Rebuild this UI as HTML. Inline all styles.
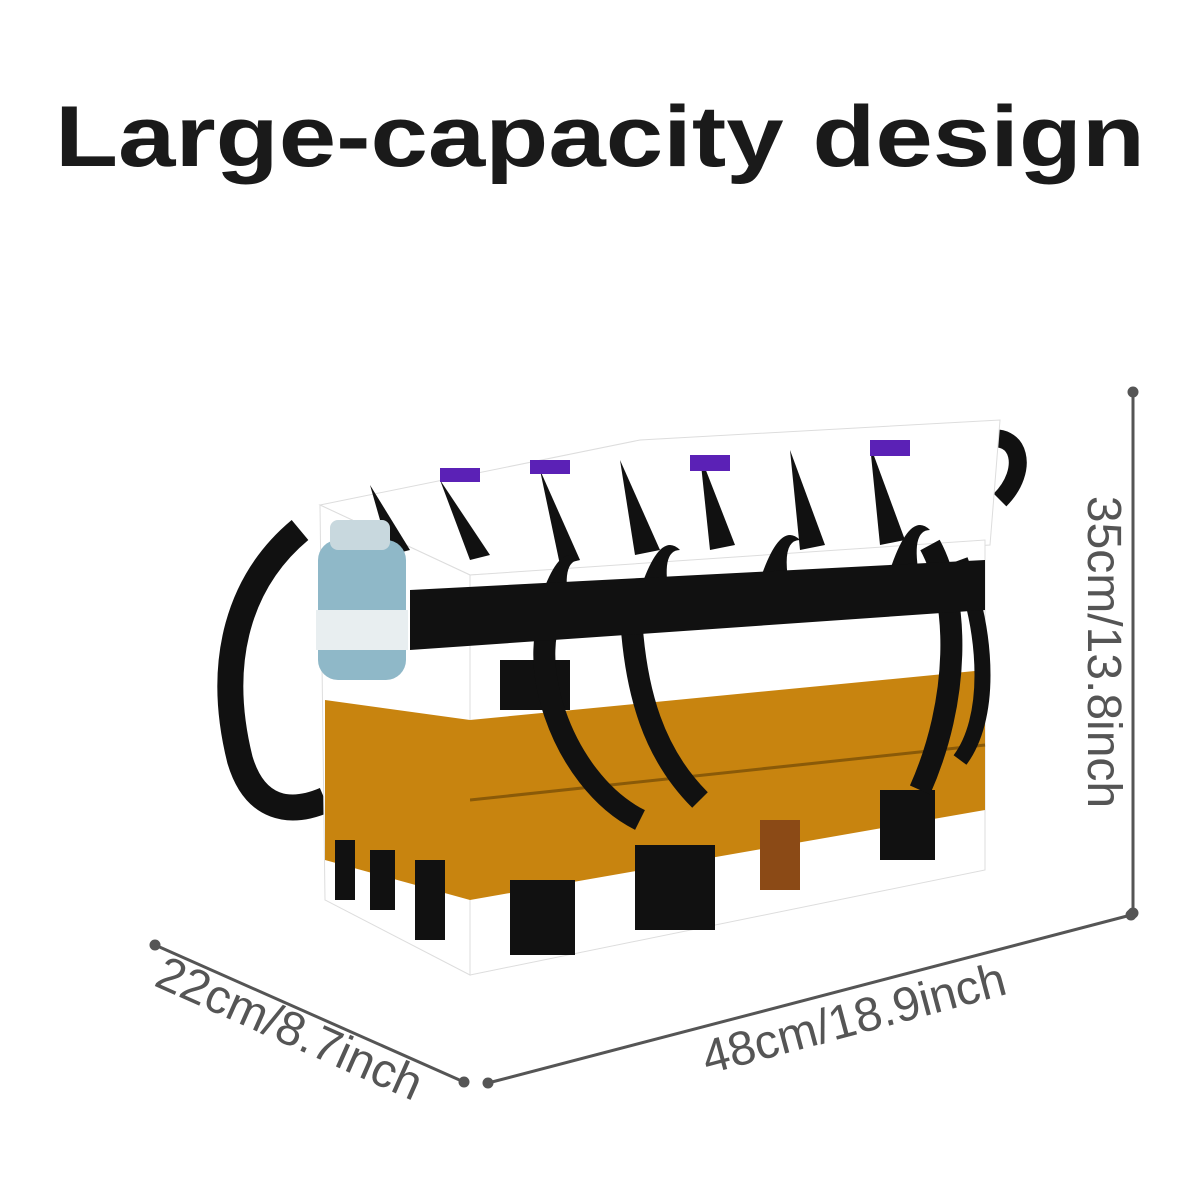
<!DOCTYPE html>
<html><head><meta charset="utf-8"><style>
html,body{margin:0;padding:0;background:#fff;width:1200px;height:1200px;overflow:hidden}
</style></head><body>
<svg width="1200" height="1200" viewBox="0 0 1200 1200" xmlns="http://www.w3.org/2000/svg">
<rect width="1200" height="1200" fill="#fff"/>
<text x="600" y="166" text-anchor="middle" font-family="Liberation Sans, sans-serif" font-weight="bold" font-size="86" fill="#1a1a1a" textLength="1090" lengthAdjust="spacingAndGlyphs">Large-capacity design</text>

<g stroke="#555" stroke-width="3" fill="#555">
<line x1="1133" y1="392" x2="1133" y2="913"/>
<circle cx="1133" cy="392" r="4"/><circle cx="1133" cy="913" r="4"/>
<line x1="488" y1="1083" x2="1131" y2="915"/>
<circle cx="488" cy="1083" r="4"/><circle cx="1131" cy="915" r="4"/>
<line x1="155" y1="945" x2="464" y2="1082"/>
<circle cx="155" cy="945" r="4"/><circle cx="464" cy="1082" r="4"/>
</g>
<g font-family="Liberation Sans, sans-serif" font-size="48" fill="#555">
<text transform="translate(1088,652) rotate(90)" text-anchor="middle">35cm/13.8inch</text>
<text transform="translate(858,1034) rotate(-15)" text-anchor="middle">48cm/18.9inch</text>
<text transform="translate(283,1043) rotate(24)" text-anchor="middle">22cm/8.7inch</text>
</g>

<path d="M300 530 C240 580 215 660 240 760 C255 810 290 815 325 800" stroke="#111" stroke-width="26" fill="none"/>
<path d="M985 440 C1020 430 1030 470 1000 500" stroke="#111" stroke-width="18" fill="none"/>
<polygon points="320,505 640,440 1000,420 990,545 470,575" fill="#fff" stroke="#ddd"/>
<polygon points="320,505 470,575 470,975 325,900" fill="#fff" stroke="#ddd"/>
<polygon points="470,575 985,540 985,870 470,975" fill="#fff" stroke="#ddd"/>
<g fill="#111">
<path d="M370 485 l20 70 l20 -5 z"/>
<path d="M440 480 l30 80 l20 -5 z"/><path d="M540 470 l20 95 l20 -5 z"/><path d="M620 460 l15 95 l25 -5 z"/>
<path d="M700 455 l10 95 l25 -5 z"/><path d="M790 450 l10 100 l25 -5 z"/><path d="M870 445 l10 100 l25 -5 z"/>
<path d="M540 600 q20 -60 40 -40 q-20 0 -10 50 z"/><path d="M640 590 q20 -60 40 -40 q-20 0 -10 50 z"/>
<path d="M760 580 q20 -60 40 -40 q-20 0 -10 50 z"/><path d="M890 570 q20 -60 40 -40 q-20 0 -10 50 z"/>
<rect x="500" y="660" width="70" height="50"/>
</g>
<g fill="#5b21b6"><rect x="690" y="455" width="40" height="16"/><rect x="870" y="440" width="40" height="16"/><rect x="440" y="468" width="40" height="14"/><rect x="530" y="460" width="40" height="14"/><rect x="420" y="615" width="40" height="14"/></g>
<polygon points="470,720 985,670 985,810 470,900" fill="#c8840f"/>
<line x1="470" y1="800" x2="985" y2="745" stroke="#8a5a08" stroke-width="3"/>
<polygon points="325,700 470,720 470,900 325,860" fill="#c8840f"/>
<g fill="#111">
<rect x="510" y="880" width="65" height="75"/><rect x="635" y="845" width="80" height="85"/><rect x="880" y="790" width="55" height="70"/>
<rect x="335" y="840" width="20" height="60"/><rect x="370" y="850" width="25" height="60"/><rect x="415" y="860" width="30" height="80"/>
</g>
<rect x="760" y="820" width="40" height="70" fill="#8b4a16"/>
<path d="M560 600 C520 650 560 780 640 820" stroke="#111" stroke-width="22" fill="none"/>
<path d="M630 580 C630 700 660 760 700 800" stroke="#111" stroke-width="22" fill="none"/>
<path d="M930 545 C960 600 960 700 920 790" stroke="#111" stroke-width="22" fill="none"/>
<path d="M960 560 C990 640 990 720 960 760" stroke="#111" stroke-width="16" fill="none"/>
<polygon points="410,590 985,560 985,610 410,650" fill="#111"/>
<rect x="318" y="540" width="88" height="140" rx="20" fill="#8fb8c8"/>
<rect x="316" y="610" width="92" height="40" fill="#e8eef0"/>
<rect x="330" y="520" width="60" height="30" rx="8" fill="#c8d8de"/>
</svg>
</body></html>
